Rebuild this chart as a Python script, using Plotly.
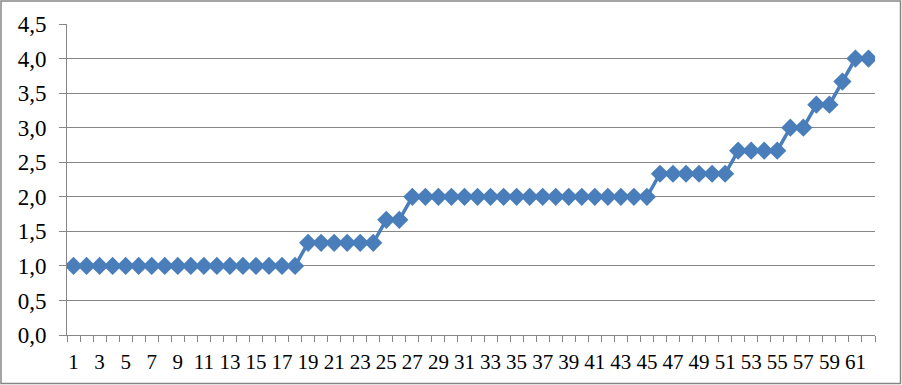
import plotly.graph_objects as go

x_vals = list(range(1, 63))
y_vals = [1.0] * 18 + [1.333] * 6 + [1.667] * 2 + [2.0] * 19 + [2.333] * 6 + \
         [2.667] * 4 + [3.0] * 2 + [3.333] * 2 + [3.667] + [4.0] * 2
x_tick_vals = list(range(1, 62, 2))
x_tick_text = [str(v) for v in x_tick_vals]

W, H = 902, 385
L, R, T, B = 67, 27, 24, 50
pw, ph = W - L - R, H - T - B

SERIF = "'Times New Roman', 'Liberation Serif', 'DejaVu Serif', serif"

fig = go.Figure()
fig.add_trace(go.Scatter(
    x=x_vals, y=y_vals, mode="lines+markers",
    line=dict(color="#4A7EBB", width=3.5),
    marker=dict(symbol="diamond", size=14, color="#4A7EBB"),
    showlegend=False,
))

gray = "#868686"
fig.update_layout(
    width=W, height=H,
    margin=dict(l=L, r=R, t=T, b=B, autoexpand=False),
    paper_bgcolor="white", plot_bgcolor="white",
    separators=",.",
    font=dict(family=SERIF, size=20, color="black"),
    xaxis=dict(
        range=[0.5, 62.5], tickmode="array", tickvals=x_tick_vals, ticktext=x_tick_text,
        ticks="", showgrid=False, zeroline=False, automargin=False,
        showline=True, linecolor=gray, linewidth=1,
        tickfont=dict(family=SERIF, size=21, color="black"),
        ticklabelstandoff=8,
        minor=dict(tickmode="array", tickvals=[i + 0.5 for i in range(0, 63)],
                   ticks="outside", ticklen=6, tickcolor=gray, tickwidth=1, showgrid=False),
    ),
    yaxis=dict(
        range=[0, 4.5], tick0=0, dtick=0.5, tickformat=".1f",
        showgrid=True, gridcolor=gray, gridwidth=1, zeroline=False, automargin=False,
        showline=True, linecolor=gray, linewidth=1,
        ticks="outside", ticklen=7, tickcolor=gray,
        ticklabelstandoff=8,
        tickfont=dict(family=SERIF, size=23, color="black"),
    ),
)

# outer frame around the whole chart
fig.add_shape(type="rect", xref="paper", yref="paper",
              x0=(1 - L) / pw, x1=(W - 1.5 - L) / pw,
              y0=(T + ph - (H - 1.5)) / ph, y1=(T + ph - 1) / ph,
              line=dict(color=gray, width=1.5), fillcolor="rgba(0,0,0,0)", layer="above")

fig.write_html("out.html", config={"displayModeBar": False},
               post_script="document.body.style.margin='0';document.body.style.padding='0';")
